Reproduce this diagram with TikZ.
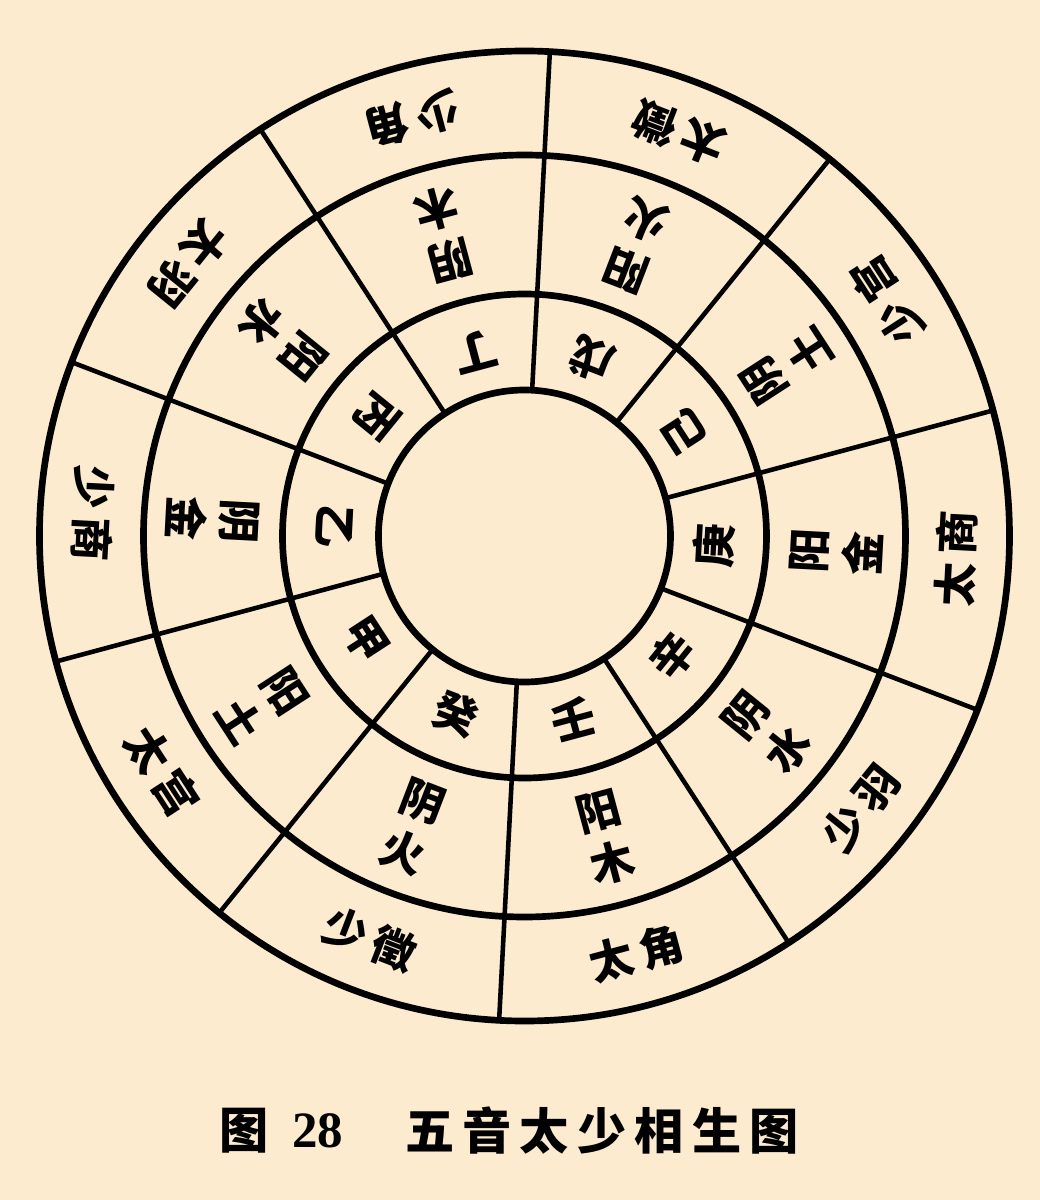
\documentclass[tikz,border=0pt]{standalone}
\usepackage{fontspec}
\newfontfamily\cjk{Noto Sans CJK SC}
\newfontfamily\shuzi{Liberation Serif}
\definecolor{papel}{RGB}{253,235,208}

\begin{document}
\begin{tikzpicture}[x=0.02cm, y=0.02cm,
  huan/.style={draw, line width=3.8pt},
  fen/.style={line width=2.6pt},
  zi/.style={inner sep=0pt, font=\cjk\bfseries\fontsize{25}{31}\selectfont},
  gan/.style={zi},
  xing/.style={zi, align=center},
  yin/.style={zi},
  ti/.style={inner sep=0pt, font=\cjk\bfseries\fontsize{28}{28}\selectfont}]
\fill[papel] (-524.5,-664) rectangle (515.5,536);
\useasboundingbox (-524.5,-664) rectangle (515.5,536);

\draw[fen] (15:146) -- (15:485);
\draw[fen] (51:146) -- (51:485);
\draw[fen] (87:146) -- (87:485);
\draw[fen] (123:146) -- (123:485);
\draw[fen] (159:146) -- (159:485);
\draw[fen] (195:146) -- (195:485);
\draw[fen] (231:146) -- (231:485);
\draw[fen] (267:146) -- (267:485);
\draw[fen] (303:146) -- (303:485);
\draw[fen] (339:146) -- (339:485);

\draw[huan] (0,0) circle (146);
\draw[huan] (0,0) circle (242);
\draw[huan] (0,0) circle (381);
\draw[huan] (0,0) circle (485);

\node[gan, rotate=123] (g1) at (33:190) {己};
\node[xing, rotate=123] (x1) at (33:312) {阴\\土};
\node[yin, rotate=123] (y1) at (33:432) {少\,宫};

\node[gan, rotate=159] (g2) at (69:190) {戊};
\node[xing, rotate=159] (x2) at (69:312) {阳\\火};
\node[yin, rotate=159] (y2) at (69:432) {太\,徵};

\node[gan, rotate=195] (g3) at (105:190) {丁};
\node[xing, rotate=195] (x3) at (105:312) {阴\\木};
\node[yin, rotate=195] (y3) at (105:432) {少\,角};

\node[gan, rotate=231] (g4) at (141:190) {丙};
\node[xing, rotate=231] (x4) at (141:312) {阳\\水};
\node[yin, rotate=231] (y4) at (141:432) {太\,羽};

\node[gan, rotate=267] (g5) at (177:190) {乙};
\node[xing, rotate=267] (x5) at (177:312) {阴\\金};
\node[yin, rotate=267] (y5) at (177:432) {少\,商};

\node[gan, rotate=303] (g6) at (213:190) {甲};
\node[xing, rotate=303] (x6) at (213:312) {阳\\土};
\node[yin, rotate=303] (y6) at (213:432) {太\,宫};

\node[gan, rotate=339] (g7) at (249:190) {癸};
\node[xing, rotate=339] (x7) at (249:312) {阴\\火};
\node[yin, rotate=339] (y7) at (249:432) {少\,徵};

\node[gan, rotate=15] (g8) at (285:190) {壬};
\node[xing, rotate=15] (x8) at (285:312) {阳\\木};
\node[yin, rotate=15] (y8) at (285:432) {太\,角};

\node[gan, rotate=51] (g9) at (321:190) {辛};
\node[xing, rotate=51] (x9) at (321:312) {阴\\水};
\node[yin, rotate=51] (y9) at (321:432) {少\,羽};

\node[gan, rotate=87] (g10) at (357:190) {庚};
\node[xing, rotate=87] (x10) at (357:312) {阳\\金};
\node[yin, rotate=87] (y10) at (357:432) {太\,商};

\node[ti] (tu) at (-280,-595) {图};
\node[inner sep=0pt, font=\shuzi\bfseries\fontsize{29}{29}\selectfont] (hao) at (-206.5,-595) {28};
\node[ti] (ming) at (77.5,-595) {五\,音\,太\,少\,相\,生\,图};
\end{tikzpicture}
\end{document}
